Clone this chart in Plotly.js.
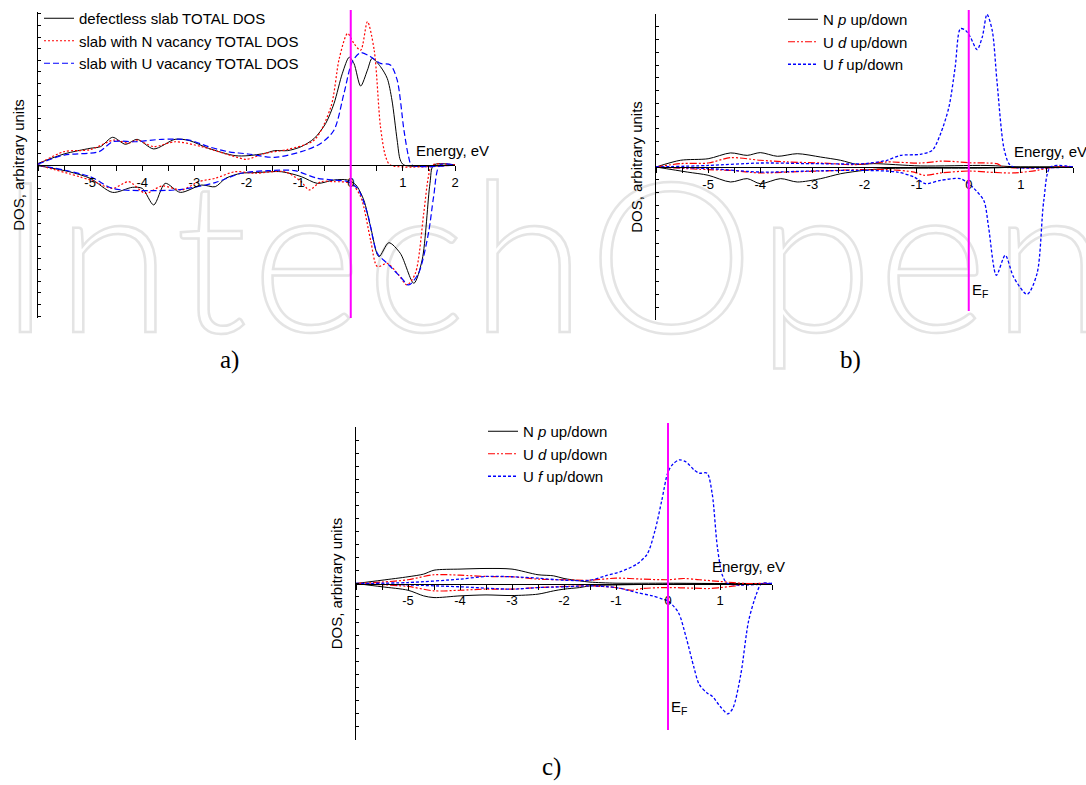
<!DOCTYPE html>
<html>
<head>
<meta charset="utf-8">
<script src="https://cdn.plot.ly/plotly-3.0.1.min.js"></script>
<style>
  html, body { margin: 0; padding: 0; background: #ffffff; }
  #wrap { position: relative; width: 1086px; height: 785px; overflow: hidden; }
  #wm { position: absolute; left: -2px; top: 146px; font-family: Lato, "Open Sans", sans-serif; font-weight: 300;
        font-size: 210px; line-height: 1; letter-spacing: 5px; color: transparent; -webkit-text-stroke: 2.5px #e4e4e4; white-space: nowrap; z-index: 0; }
  #chart { position: absolute; left: 0; top: 0; width: 1086px; height: 785px; z-index: 1; }
</style>
</head>
<body>
<div id="wrap">
  <div id="wm">IntechOpen</div>
  <div id="chart"></div>
</div>
<script>
// ---------------- Panel a) total DOS ----------------
const aDefectUpE   = [-6,-5.5,-5,-4.8,-4.57,-4.32,-4.1,-3.78,-3.37,-3.1,-2.73,-2.22,-1.97,-1.65,-1.46,-1.21,-0.95,-0.7,-0.48,-0.32,-0.16,-0.03,0.06,0.19,0.32,0.41,0.57,0.7,0.79,0.89,0.95,1.02,2];
const aDefectUp    = [0.1,0.72,1.09,1.2,1.81,1.35,1.68,1.05,1.68,1.6,1.09,0.61,0.61,0.76,0.94,0.94,1.2,1.74,2.72,4.03,6.0,7.04,6.65,5.16,6.2,6.97,6.43,5.66,4.25,1.63,0.33,0,0];
const aDefectDownE = [-6,-5.4,-5,-4.57,-4.19,-4.0,-3.78,-3.56,-3.27,-2.86,-2.6,-2.4,-2.1,-1.84,-1.33,-0.95,-0.64,-0.32,-0.06,0.1,0.25,0.38,0.54,0.73,0.95,1.21,1.37,1.52,1.59,2];
const aDefectDown  = [-0.04,-0.44,-0.87,-1.79,-1.46,-1.53,-2.61,-1.2,-1.79,-1.31,-1.42,-0.87,-0.54,-0.5,-0.44,-0.76,-1.2,-0.98,-0.98,-1.31,-2.29,-4.03,-5.99,-5.08,-5.77,-7.73,-6.2,-1.2,0,0];

const aNvacUpE     = [-6,-5.5,-5,-4.54,-4.26,-4.1,-3.78,-3.37,-2.86,-2.22,-2.0,-1.65,-1.21,-0.7,-0.38,-0.22,-0.06,0.06,0.19,0.32,0.45,0.57,0.67,0.76,2];
const aNvacUp      = [0.05,0.87,1.0,1.63,1.42,1.63,1.2,1.52,1.2,0.54,0.37,0.76,1.02,1.63,3.81,6.97,8.6,7.95,7.5,9.37,7.5,2.5,0.54,0,0];
const aNvacDownE   = [-6,-5,-4.57,-4.26,-3.94,-3.62,-3.24,-2.92,-2.6,-2.22,-1.84,-1.27,-0.95,-0.8,-0.57,-0.32,0,0.19,0.38,0.51,0.7,0.92,1.08,1.24,1.4,1.49,1.56,2];
const aNvacDown    = [0,-0.98,-1.53,-1.09,-1.85,-1.37,-1.63,-1.09,-0.87,-0.44,-0.54,-0.44,-1.09,-1.63,-1.09,-1.09,-1.2,-2.07,-4.9,-6.64,-6.43,-7.19,-7.84,-7.08,-3.16,-0.76,0,0];

const aUvacUpE     = [-6,-5.5,-4.83,-4.57,-4.13,-3.62,-3.1,-2.73,-2.35,-1.97,-1.46,-0.95,-0.57,-0.32,-0.13,0.03,0.19,0.38,0.57,0.76,0.89,1.02,1.11,1.17,2];
const aUvacUp      = [0.05,0.65,0.87,1.52,1.52,1.68,1.63,1.2,0.87,0.72,0.5,0.87,1.42,2.29,4.68,6.75,7.34,7.08,6.64,6.54,5.56,2.29,0.54,0,0];
const aUvacDownE   = [-6,-5,-4.57,-3.87,-3.24,-2.6,-2.1,-1.59,-1.08,-0.64,-0.32,-0.06,0.13,0.32,0.51,0.7,0.95,1.11,1.3,1.49,1.59,1.71,2];
const aUvacDown    = [0,-0.76,-1.53,-1.68,-1.59,-1.15,-0.54,-0.37,-0.37,-0.87,-0.98,-1.09,-1.53,-3.16,-5.77,-6.43,-7.3,-7.84,-7.08,-4.47,-2.07,0,0];

// ---------------- Panel b) partial DOS ----------------
const bNpUpE   = [-6,-5.53,-5,-4.57,-4.25,-4,-3.67,-3.29,-2.84,-2.46,-2.14,-1.82,-0.93,0.35,0.99,2];
const bNpUp    = [0,0.44,0.54,0.92,0.76,0.94,0.7,0.87,0.65,0.44,0.17,0.22,0.07,0.1,0,0];
const bNpDownE = [-6,-5.4,-5,-4.57,-4.25,-4,-3.61,-3.29,-2.84,-2.46,-2.01,-1.57,0.35,0.99,2];
const bNpDown  = [0,-0.33,-0.54,-0.98,-0.76,-1.09,-0.76,-0.98,-0.76,-0.44,-0.22,-0.1,-0.07,0,0];

const bUdUpE   = [-6,-5.53,-5,-4.57,-4,-3.48,-2.84,-2.2,-1.95,-1.57,-0.93,-0.48,0,0.35,0.54,0.67,2];
const bUdUp    = [0,0.22,0.26,0.61,0.44,0.33,0.26,0.15,0.22,0.33,0.26,0.39,0.28,0.26,0.22,0,0];
const bUdDownE = [-6,-5,-4.57,-4,-3.48,-2.84,-2.01,-1.57,-1.05,-0.86,-0.54,0,0.35,0.86,1.31,1.63,2];
const bUdDown  = [0,-0.17,-0.22,-0.39,-0.33,-0.26,-0.17,-0.17,-0.33,-0.54,-0.39,-0.26,-0.33,-0.39,-0.22,0,0];

const bUfUpE   = [-6,-5,-4,-3,-2,-1.57,-1.31,-0.93,-0.7,-0.54,-0.38,-0.26,-0.16,-0.06,0.03,0.16,0.26,0.35,0.45,0.54,0.67,0.77,0.86,2];
const bUfUp    = [0,0.1,0.26,0.22,0.22,0.44,0.76,0.83,1.09,2.18,3.92,6.54,9.04,8.93,8.5,7.67,8.5,9.98,8.93,5.66,1.31,0.22,0,0];
const bUfDownE = [-6,-5,-4,-3,-2,-1.37,-1.05,-0.83,-0.54,-0.16,0,0.1,0.29,0.38,0.53,0.7,0.86,1.12,1.31,1.44,1.57,2];
const bUfDown  = [0,-0.1,-0.33,-0.26,-0.22,-0.33,-0.65,-1.09,-0.87,-0.76,-1.09,-1.4,-2.2,-3.92,-7.08,-5.77,-7.19,-8.32,-6.97,-2.18,0,0];

// ---------------- Panel c) partial DOS ----------------
const cNpUpE   = [-6,-5.5,-5,-4.7,-4.5,-4,-3.5,-3,-2.5,-2.2,-2,-1.7,-1.5,-1,0,1,2];
const cNpUp    = [0,0.21,0.43,0.6,0.85,0.92,0.96,0.92,0.56,0.49,0.32,0.17,0.09,0.02,0.02,0,0];
const cNpDownE = [-6,-5.5,-5,-4.7,-4.5,-4,-3.5,-3,-2.5,-2.2,-2,-1.7,-1.5,-1,0,1,2];
const cNpDown  = [0,-0.21,-0.43,-0.79,-0.9,-0.79,-0.73,-0.77,-0.68,-0.47,-0.36,-0.26,-0.15,-0.09,-0.04,0,0];

const cUdUpE   = [-6,-5.5,-5,-4.5,-4,-3.5,-3,-2.5,-2,-1.5,-1,-0.5,0,0.3,0.6,1.0,1.5,2];
const cUdUp    = [0,0.09,0.24,0.56,0.53,0.45,0.43,0.28,0.24,0.21,0.34,0.28,0.24,0.32,0.24,0.13,0,0];
const cUdDownE = [-6,-5,-4.5,-4,-3.5,-3,-2.5,-2,-1.5,-1,-0.7,-0.5,0,0.5,0.8,1.0,1.3,1.5,1.7,2];
const cUdDown  = [0,-0.19,-0.47,-0.43,-0.36,-0.36,-0.26,-0.19,-0.15,-0.26,-0.43,-0.32,-0.26,-0.3,-0.32,-0.26,-0.15,-0.04,0,0];

const cUfUpE   = [-6,-5,-4,-3.5,-3,-2.5,-2,-1.5,-1.2,-0.9,-0.6,-0.4,-0.25,-0.12,0,0.1,0.22,0.35,0.5,0.6,0.75,0.85,0.95,1.05,1.15,2];
const cUfUp    = [0,0.06,0.28,0.45,0.43,0.34,0.21,0.21,0.49,0.77,1.24,1.88,3.38,5.3,7.12,7.65,7.9,7.76,7.26,7.05,7.05,5.73,2.31,0.49,0,0];
const cUfDownE = [-6,-5,-4,-3,-2.5,-2,-1.5,-1,-0.6,-0.3,-0.1,0,0.2,0.35,0.5,0.6,0.75,0.85,1.0,1.15,1.25,1.4,1.55,1.7,1.8,2];
const cUfDown  = [0,-0.09,-0.21,-0.36,-0.26,-0.21,-0.15,-0.26,-0.58,-0.79,-1.0,-1.11,-1.86,-3.46,-5.38,-6.45,-6.99,-7.2,-7.84,-8.33,-7.95,-5.81,-2.39,-0.68,0,0];

// ---------------- labels ----------------
const aNames = ['defectless slab TOTAL DOS', 'slab with N vacancy TOTAL DOS', 'slab with U vacancy TOTAL DOS'];
const pdNames = ['N <i>p</i> up/down', 'U <i>d</i> up/down', 'U <i>f</i> up/down'];
const tickLabelsA = [-5,-4,-3,-2,-1,0,1,2];
const tickLabelsBC = [-5,-4,-3,-2,-1,0,1];
const yTitle = 'DOS, arbitrary units';
const xTitle = 'Energy, eV';
const panelLabels = ['a)', 'b)', 'c)'];

// ---------------- build ----------------
const W = 1086, H = 785;
const px = v => v / W;
const py = v => 1 - v / H;
const FONT = 'Liberation Sans, Arial, Helvetica, sans-serif';

function joinUD(upE, up, downE, down) {
  return { x: upE.concat([null], downE), y: up.concat([null], down) };
}

const styles = {
  black: { color: '#000000', width: 1, dash: 'solid' },
  reddot: { color: '#ff0000', width: 1.2, dash: '2px,2px' },
  bluedash: { color: '#0000ff', width: 1.2, dash: '6px,3px' },
  reddashdot: { color: '#ff0000', width: 1.2, dash: '7px,2px,2px,2px,2px,2px' },
  bluedot: { color: '#0000ff', width: 1.3, dash: '3px,2px' }
};

function tr(d, name, st, xa, ya, leg) {
  return { type: 'scatter', mode: 'lines', x: d.x, y: d.y, name: name,
    xaxis: xa, yaxis: ya, legend: leg, connectgaps: false,
    line: { color: st.color, width: st.width, dash: st.dash, shape: 'spline', smoothing: 0.8 },
    hoverinfo: 'skip' };
}

const data = [
  tr(joinUD(aDefectUpE, aDefectUp, aDefectDownE, aDefectDown), aNames[0], styles.black, 'x', 'y', 'legend'),
  tr(joinUD(aNvacUpE, aNvacUp, aNvacDownE, aNvacDown), aNames[1], styles.reddot, 'x', 'y', 'legend'),
  tr(joinUD(aUvacUpE, aUvacUp, aUvacDownE, aUvacDown), aNames[2], styles.bluedash, 'x', 'y', 'legend'),
  tr(joinUD(bNpUpE, bNpUp, bNpDownE, bNpDown), pdNames[0], styles.black, 'x2', 'y2', 'legend2'),
  tr(joinUD(bUdUpE, bUdUp, bUdDownE, bUdDown), pdNames[1], styles.reddashdot, 'x2', 'y2', 'legend2'),
  tr(joinUD(bUfUpE, bUfUp, bUfDownE, bUfDown), pdNames[2], styles.bluedot, 'x2', 'y2', 'legend2'),
  tr(joinUD(cNpUpE, cNpUp, cNpDownE, cNpDown), pdNames[0], styles.black, 'x3', 'y3', 'legend3'),
  tr(joinUD(cUdUpE, cUdUp, cUdDownE, cUdDown), pdNames[1], styles.reddashdot, 'x3', 'y3', 'legend3'),
  tr(joinUD(cUfUpE, cUfUp, cUfDownE, cUfDown), pdNames[2], styles.bluedot, 'x3', 'y3', 'legend3')
];

// panel boxes in pixels: [left, right, top, bottom]
const boxes = {
  a: [38, 455, 12, 318],
  b: [656, 1073, 14, 320],
  c: [356, 772, 427, 740]
};

function xAxis(box, ticks) {
  const yb = py(box[3]), yt = py(box[2]);
  return {
    domain: [px(box[0]), px(box[1])], range: [-6, 2], anchor: 'free', position: (yb + yt) / 2,
    showline: true, linecolor: '#000', linewidth: 1, ticks: 'outside', ticklen: 5, tickwidth: 1, tickcolor: '#000',
    tickvals: ticks, ticktext: ticks.map(String), tickfont: { family: FONT, size: 13, color: '#000' },
    minor: { dtick: 0.5, tick0: 0, ticks: 'outside', ticklen: 5, tickcolor: '#000', tickwidth: 1, showgrid: false },
    showgrid: false, zeroline: false, fixedrange: true
  };
}
function yAxis(box, xa, dtick) {
  return {
    domain: [py(box[3]), py(box[2])], range: [-10, 10], anchor: xa,
    showline: true, linecolor: '#000', linewidth: 1.5, ticks: 'inside', ticklen: 3, tickwidth: 1, tickcolor: '#000',
    tick0: 0, dtick: dtick, showticklabels: false, showgrid: false, zeroline: false, fixedrange: true,
    title: { text: yTitle, font: { family: FONT, size: 15, color: '#000' }, standoff: 8 }
  };
}

function legendAt(x, y) {
  return { x: px(x), y: py(y), xanchor: 'left', yanchor: 'top', bgcolor: 'rgba(0,0,0,0)',
    borderwidth: 0, font: { family: FONT, size: 15, color: '#000' }, tracegroupgap: 0, itemwidth: 30 };
}

function vline(xa, yTop, yBot) {
  return { type: 'line', xref: xa, yref: 'paper', x0: 0, x1: 0, y0: py(yBot), y1: py(yTop),
    line: { color: '#ff00ff', width: 2 }, layer: 'above' };
}

function ann(text, x, y, size, xanchor, family) {
  return { text: text, x: px(x), y: py(y), xref: 'paper', yref: 'paper', showarrow: false,
    xanchor: xanchor || 'left', yanchor: 'middle', font: { family: family || FONT, size: size, color: '#000' } };
}

const layout = {
  width: W, height: H,
  margin: { l: 0, r: 0, t: 0, b: 0 },
  paper_bgcolor: 'rgba(0,0,0,0)', plot_bgcolor: 'rgba(0,0,0,0)',
  font: { family: FONT, size: 13, color: '#000' },
  showlegend: true,
  xaxis: xAxis(boxes.a, tickLabelsA),
  yaxis: yAxis(boxes.a, 'x', 0.76),
  xaxis2: xAxis(boxes.b, tickLabelsBC),
  yaxis2: yAxis(boxes.b, 'x2', 0.8333),
  xaxis3: xAxis(boxes.c, tickLabelsBC),
  yaxis3: yAxis(boxes.c, 'x3', 0.8333),
  legend: legendAt(39, 2),
  legend2: legendAt(783, 3),
  legend3: legendAt(483, 415),
  shapes: [vline('x', 10, 318), vline('x2', 10, 311), vline('x3', 423, 730)],
  annotations: [
    ann(xTitle, 414, 151, 15),
    ann(xTitle, 1012, 152, 15),
    ann(xTitle, 710, 566, 15),
    ann('E<sub>F</sub>', 970, 291, 15),
    ann('E<sub>F</sub>', 669, 707, 15),
    ann(panelLabels[0], 229, 360, 25, 'center', 'Liberation Serif, DejaVu Serif, serif'),
    ann(panelLabels[1], 850, 360, 25, 'center', 'Liberation Serif, DejaVu Serif, serif'),
    ann(panelLabels[2], 551, 767, 25, 'center', 'Liberation Serif, DejaVu Serif, serif')
  ]
};

Plotly.newPlot('chart', data, layout, { displayModeBar: false, staticPlot: true });
</script>
</body>
</html>
